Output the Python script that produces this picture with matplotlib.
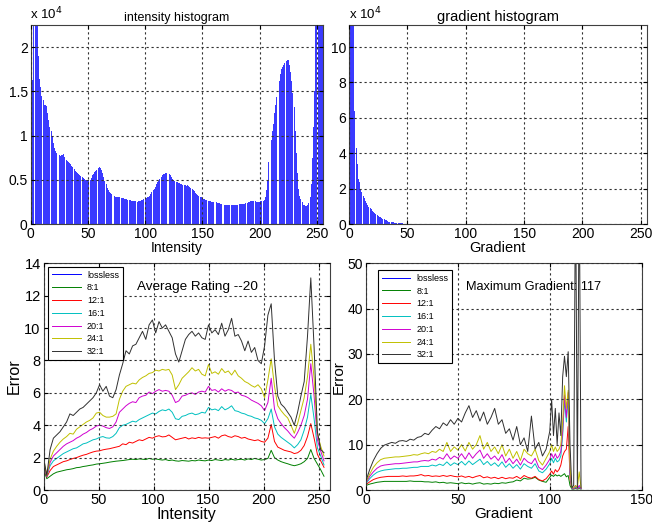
import numpy as np
import matplotlib
matplotlib.use("Agg")
import matplotlib.pyplot as plt

plt.rcParams['font.family'] = ['Liberation Sans', 'DejaVu Sans']

# ---------------- data ----------------
# intensity histogram (units of 1e4), bins at intensity 1..256
intensity_hist = [
    0.74, 1.63, 2.50, 2.60, 2.50, 2.30, 1.90, 1.64, 1.55, 1.45,
    1.40, 1.35, 1.34, 1.33, 1.25, 1.18, 1.10, 1.05, 1.00, 0.92,
    0.86, 0.82, 0.80, 0.78, 0.78, 0.77, 0.78, 0.78, 0.79, 0.76,
    0.72, 0.71, 0.70, 0.69, 0.68, 0.66, 0.64, 0.62, 0.60, 0.59,
    0.58, 0.57, 0.55, 0.54, 0.53, 0.52, 0.51, 0.50, 0.50, 0.49,
    0.50, 0.50, 0.52, 0.55, 0.57, 0.59, 0.60, 0.61, 0.63, 0.64,
    0.63, 0.61, 0.58, 0.53, 0.49, 0.45, 0.41, 0.38, 0.36, 0.35,
    0.34, 0.33, 0.32, 0.31, 0.31, 0.30, 0.30, 0.30, 0.29, 0.29,
    0.29, 0.28, 0.28, 0.28, 0.27, 0.27, 0.27, 0.26, 0.26, 0.26,
    0.26, 0.26, 0.25, 0.26, 0.26, 0.26, 0.27, 0.27, 0.28, 0.28,
    0.29, 0.30, 0.31, 0.32, 0.34, 0.36, 0.38, 0.40, 0.42, 0.45,
    0.47, 0.49, 0.51, 0.53, 0.55, 0.56, 0.57, 0.58, 0.58, 0.57,
    0.56, 0.55, 0.53, 0.51, 0.50, 0.49, 0.48, 0.47, 0.46, 0.46,
    0.45, 0.45, 0.44, 0.44, 0.44, 0.43, 0.44, 0.43, 0.42, 0.41,
    0.40, 0.38, 0.37, 0.35, 0.34, 0.33, 0.32, 0.31, 0.30, 0.29,
    0.28, 0.28, 0.27, 0.27, 0.26, 0.26, 0.26, 0.25, 0.25, 0.25,
    0.25, 0.25, 0.24, 0.24, 0.24, 0.23, 0.23, 0.23, 0.22, 0.22,
    0.22, 0.22, 0.22, 0.22, 0.22, 0.22, 0.22, 0.22, 0.22, 0.22,
    0.22, 0.23, 0.23, 0.23, 0.23, 0.23, 0.23, 0.24, 0.24, 0.25,
    0.25, 0.26, 0.26, 0.26, 0.26, 0.26, 0.25, 0.25, 0.25, 0.25,
    0.26, 0.26, 0.26, 0.27, 0.30, 0.38, 0.50, 0.70, 0.83, 0.95,
    1.05, 1.13, 1.25, 1.35, 1.44, 1.55, 1.62, 1.70, 1.75, 1.78,
    1.80, 1.82, 1.84, 1.85, 1.85, 1.80, 1.72, 1.62, 1.48, 1.32,
    1.05, 0.80, 0.58, 0.40, 0.32, 0.28, 0.25, 0.22, 0.21, 0.20,
    0.20, 0.21, 0.24, 0.30, 0.45, 0.75, 1.10, 1.50, 2.50, 3.00,
    3.20, 3.50, 3.50, 3.60, 3.50, 3.20,
]
intensity_bins = list(range(1, 257))

# gradient histogram (units of 1e4), bins at gradient 0..255
gradient_hist_nonzero = [
    5.30, 25.0, 30.0, 20.0, 13.0, 6.40, 4.30, 3.40, 2.55, 2.40,
    2.00, 1.80, 1.60, 1.45, 1.32, 1.20, 1.07, 0.98, 0.90, 0.82,
    0.75, 0.68, 0.62, 0.56, 0.50, 0.46, 0.42, 0.37, 0.33, 0.29,
    0.26, 0.23, 0.20, 0.17, 0.14, 0.12, 0.11, 0.10, 0.09, 0.08,
    0.07, 0.06, 0.05, 0.045, 0.04, 0.035, 0.03, 0.025, 0.02, 0.015,
    0.01, 0.005,
]
gradient_hist = gradient_hist_nonzero + [0.0] * (256 - len(gradient_hist_nonzero))
gradient_bins = list(range(0, 256))

series_names = ['lossless', '8:1', '12:1', '16:1', '20:1', '24:1', '32:1']
series_colors = ['#0000ff', '#008000', '#ff0000', '#00c0c0', '#d000d0', '#c0c000', '#303030']

# error vs intensity
int_x = list(range(0, 256, 3))
int_err_lossless = [0.0] * len(int_x)
int_err_8 = [
    1.30, 0.70, 0.85, 1.00, 1.10, 1.15, 1.20, 1.25, 1.28, 1.32,
    1.38, 1.40, 1.45, 1.48, 1.52, 1.55, 1.60, 1.62, 1.65, 1.68,
    1.72, 1.75, 1.78, 1.80, 1.82, 1.85, 1.88, 1.90, 1.88, 1.92,
    1.90, 1.88, 1.95, 1.90, 1.92, 1.88, 1.85, 1.88, 1.82, 1.85,
    1.80, 1.78, 1.82, 1.80, 1.78, 1.82, 1.80, 1.85, 1.82, 1.80,
    1.85, 1.82, 1.88, 1.85, 1.82, 1.88, 1.85, 1.90, 1.85, 1.88,
    1.90, 1.85, 1.92, 1.88, 1.95, 1.90, 1.85, 1.88, 1.95, 2.45,
    2.00, 1.85, 1.75, 1.68, 1.62, 1.55, 1.50, 1.55, 1.62, 1.75,
    1.95, 2.50, 1.95, 1.60, 1.25, 0.85,
]
int_err_12 = [
    1.60, 0.80, 1.20, 1.45, 1.55, 1.65, 1.75, 1.80, 1.88, 1.95,
    2.00, 2.08, 2.15, 2.20, 2.28, 2.35, 2.40, 2.42, 2.48, 2.52,
    2.55, 2.60, 2.65, 2.70, 2.85, 2.80, 2.95, 2.90, 3.00, 3.10,
    3.05, 3.15, 3.25, 3.20, 3.30, 3.35, 3.28, 3.30, 3.40, 3.25,
    3.10, 3.15, 3.20, 3.25, 3.15, 3.22, 3.18, 3.25, 3.20, 3.22,
    3.20, 3.25, 3.30, 3.20, 3.35, 3.40, 3.30, 3.25, 3.35, 3.30,
    3.20, 3.25, 3.15, 3.10, 3.05, 3.10, 3.00, 2.95, 3.20, 4.05,
    3.00, 2.65, 2.55, 2.45, 2.40, 2.35, 2.25, 2.30, 2.45, 2.75,
    3.30, 4.10, 3.20, 2.20, 1.80, 1.40,
]
int_err_16 = [
    1.70, 0.85, 1.50, 1.80, 1.95, 2.10, 2.25, 2.35, 2.45, 2.55,
    2.60, 2.72, 2.85, 2.90, 3.00, 3.10, 3.15, 3.25, 3.30, 3.22,
    3.20, 3.30, 3.50, 3.85, 4.00, 4.05, 4.15, 4.25, 4.20, 4.35,
    4.45, 4.55, 4.65, 4.75, 4.70, 4.85, 4.95, 4.90, 5.00, 4.80,
    4.40, 4.35, 4.55, 4.60, 4.70, 4.75, 4.65, 4.70, 4.80, 4.75,
    5.10, 4.95, 5.00, 4.90, 5.15, 4.95, 5.05, 5.20, 4.90, 4.85,
    4.75, 4.70, 4.60, 4.55, 4.45, 4.40, 4.30, 4.10, 4.40, 5.00,
    3.90, 3.45, 3.25, 3.10, 2.95, 2.80, 2.60, 2.80, 3.10, 3.70,
    4.50, 5.90, 4.40, 2.60, 2.10, 1.55,
]
int_err_20 = [
    1.80, 0.85, 1.70, 2.10, 2.30, 2.50, 2.70, 2.85, 2.95, 3.05,
    3.20, 3.30, 3.45, 3.55, 3.70, 3.80, 3.95, 4.00, 3.95, 3.85,
    3.80, 3.90, 4.20, 4.80, 5.00, 5.20, 5.35, 5.45, 5.40, 5.70,
    5.80, 5.85, 6.05, 5.95, 6.10, 6.20, 6.10, 6.15, 6.10, 5.85,
    5.40, 5.50, 5.80, 5.85, 5.95, 6.00, 5.90, 6.05, 6.10, 6.05,
    6.40, 6.15, 6.20, 6.05, 6.25, 6.10, 6.20, 6.15, 6.00, 6.05,
    5.85, 5.80, 5.70, 5.55, 5.45, 5.35, 5.20, 4.90, 5.40, 6.90,
    5.00, 4.40, 4.10, 3.85, 3.65, 3.40, 3.20, 3.55, 4.00, 4.60,
    5.60, 7.80, 5.80, 3.10, 2.40, 1.80,
]
int_err_24 = [
    1.90, 0.90, 1.90, 2.40, 2.70, 2.95, 3.15, 3.30, 3.50, 3.45,
    3.75, 3.90, 4.05, 4.20, 4.30, 4.45, 4.75, 4.80, 4.60, 4.50,
    4.50, 4.55, 4.70, 5.60, 6.10, 6.40, 6.50, 6.60, 6.55, 6.80,
    6.95, 7.05, 7.20, 7.25, 7.40, 7.35, 7.45, 7.40, 7.45, 7.10,
    6.20, 6.50, 6.90, 7.10, 7.30, 7.55, 7.35, 7.45, 7.15, 7.05,
    7.75, 7.20, 7.30, 7.15, 7.50, 7.25, 7.35, 7.10, 7.40, 7.05,
    6.90, 6.70, 6.60, 6.45, 6.35, 6.50, 6.25, 5.70, 6.80, 8.10,
    6.40, 5.20, 4.90, 4.65, 4.45, 4.00, 3.50, 4.10, 4.90, 5.70,
    7.00, 9.00, 6.90, 3.50, 2.70, 2.10,
]
int_err_32 = [
    2.00, 0.90, 2.50, 3.20, 3.40, 3.60, 3.90, 4.20, 4.70, 4.60,
    4.80, 5.00, 5.10, 5.30, 5.50, 5.70, 6.00, 6.50, 6.10, 6.40,
    5.80, 5.70, 6.20, 7.10, 7.80, 8.60, 8.40, 8.90, 9.00, 9.40,
    9.80, 9.30, 10.20, 10.50, 9.70, 10.40, 10.00, 10.20, 9.80, 9.40,
    8.40, 7.90, 8.60, 9.30, 9.60, 9.80, 9.50, 9.70, 9.40, 9.30,
    10.20, 9.70, 9.90, 9.60, 10.30, 9.50, 9.90, 10.60, 9.50, 9.60,
    9.20, 8.60, 9.20, 8.50, 8.80, 8.00, 7.80, 8.90, 10.80, 11.50,
    8.00, 5.80, 5.30, 5.10, 4.80, 4.50, 4.00, 4.80, 5.80, 6.70,
    9.50, 13.10, 8.80, 3.60, 2.50, 2.30,
]
int_errors = [int_err_lossless, int_err_8, int_err_12, int_err_16,
              int_err_20, int_err_24, int_err_32]

# error vs gradient
grad_x = list(range(0, 101, 2)) + list(range(101, 118))
grad_err_lossless = [0.0] * len(grad_x)
grad_err_8 = [
    1.0, 1.3, 1.5, 1.7, 1.8, 1.9, 1.9, 1.9, 1.9, 1.9,
    1.9, 1.9, 2.0, 1.9, 1.9, 1.9, 1.8, 1.8, 1.7, 1.8,
    1.6, 1.7, 1.5, 1.6, 1.5, 1.4, 1.6, 1.4, 1.5, 1.3,
    1.5, 1.6, 1.3, 1.4, 1.3, 1.5, 1.4, 1.6, 1.5, 1.7,
    1.8, 2.2, 2.0, 2.6, 2.4, 2.5, 2.8, 2.2, 1.9, 1.7,
    2.8,
    3.3, 3.0, 3.4, 3.1, 3.3, 3.0, 3.3, 3.6, 2.9, 3.2,
    1.0, 0.2, 0.2, 0.3, 0.2, 0.3, 0.2,
]
grad_err_12 = [
    1.2, 1.8, 2.3, 2.6, 2.8, 2.9, 3.0, 3.0, 3.0, 3.0,
    3.1, 3.0, 3.1, 3.1, 3.2, 3.4, 3.1, 3.2, 3.0, 3.1,
    3.0, 3.2, 3.0, 3.2, 3.0, 2.9, 3.1, 2.8, 3.0, 2.7,
    3.0, 3.2, 2.7, 2.9, 2.6, 2.8, 2.5, 2.8, 2.5, 2.7,
    2.6, 3.0, 2.5, 3.2, 2.8, 2.6, 3.0, 2.3, 2.0, 2.5,
    3.5,
    4.2, 3.5, 4.5, 4.0, 4.5, 5.5, 7.5, 8.5, 9.0, 14.0,
    2.5, 0.3, 0.3, 0.5, 0.3, 0.5, 0.3,
]
grad_err_16 = [
    1.4, 2.5, 3.3, 3.9, 4.2, 4.4, 4.5, 4.6, 4.7, 4.7,
    4.8, 4.8, 4.9, 5.0, 5.0, 5.2, 5.2, 5.2, 5.5, 5.3,
    5.7, 5.4, 6.2, 5.4, 6.0, 5.6, 6.3, 5.5, 6.4, 5.6,
    6.2, 6.8, 5.6, 6.3, 5.4, 6.0, 5.2, 6.2, 5.0, 5.8,
    4.8, 5.6, 4.6, 5.8, 5.2, 4.8, 5.8, 4.2, 3.8, 4.6,
    5.8,
    7.0, 6.0, 7.0, 6.2, 6.5, 7.5, 12.0, 20.0, 15.0, 20.5,
    3.5, 0.3, 0.3, 0.6, 0.3, 0.6, 0.3,
]
grad_err_20 = [
    1.6, 3.0, 4.0, 4.8, 5.3, 5.5, 5.6, 5.7, 5.8, 5.8,
    5.9, 6.0, 6.1, 6.2, 6.2, 6.4, 6.5, 6.4, 6.8, 6.6,
    7.2, 6.8, 8.0, 6.8, 7.5, 7.0, 8.0, 6.8, 8.2, 7.0,
    8.0, 8.8, 7.0, 8.0, 6.8, 7.5, 6.5, 7.8, 6.0, 7.0,
    5.8, 6.8, 5.5, 7.0, 6.2, 5.8, 7.0, 5.0, 4.5, 5.5,
    6.8,
    8.0, 7.0, 8.0, 7.0, 7.5, 8.5, 13.0, 21.0, 16.0, 21.5,
    4.0, 0.5, 0.3, 1.0, 0.3, 1.0, 0.3,
]
grad_err_24 = [
    1.8, 3.5, 5.0, 6.0, 6.7, 7.0, 7.1, 7.2, 7.3, 7.3,
    7.4, 7.5, 7.6, 7.8, 7.7, 8.0, 8.2, 8.0, 8.5, 8.3,
    9.0, 8.5, 10.5, 8.5, 9.5, 8.8, 10.0, 8.6, 10.5, 9.0,
    10.0, 12.0, 9.0, 10.5, 8.5, 9.5, 8.0, 10.0, 7.5, 9.0,
    7.0, 8.5, 6.5, 9.0, 8.0, 7.5, 9.0, 6.5, 5.5, 7.0,
    8.5,
    10.0, 8.5, 9.5, 8.5, 9.0, 10.0, 15.0, 23.0, 18.0, 22.0,
    5.0, 0.5, 0.5, 1.0, 0.5, 4.0, 0.5,
]
grad_err_32 = [
    2.0, 4.5, 6.5, 8.0, 9.2, 9.9, 10.2, 10.5, 10.3, 10.8,
    10.9, 10.7, 11.2, 11.0, 11.6, 11.8, 12.5, 12.2, 13.2, 14.0,
    13.5, 14.8, 14.2, 15.5, 14.5, 15.8, 15.0, 17.0, 18.6, 16.0,
    17.5, 15.2, 17.2, 14.5, 16.0, 18.0, 14.5, 15.5, 12.5, 13.5,
    11.0, 14.0, 10.0, 11.5, 8.5, 16.3, 9.0, 10.5, 7.5, 9.0,
    13.0,
    20.0, 12.0, 18.0, 10.0, 17.0, 12.0, 25.0, 29.5, 25.0, 30.5,
    10.0, 0.5, 1.0, 70.0, 0.5, 70.0, 0.5,
]
grad_errors = [grad_err_lossless, grad_err_8, grad_err_12, grad_err_16,
               grad_err_20, grad_err_24, grad_err_32]

# ---------------- figure ----------------
W, H = 652, 525
fig = plt.figure(figsize=(W / 100, H / 100), dpi=100)


def box(l, t, r, b):
    return [l / W, 1 - b / H, (r - l) / W, (b - t) / H]


ax1 = fig.add_axes(box(30.5, 25, 322.7, 224))
ax2 = fig.add_axes(box(349, 25, 646.7, 224))
ax3 = fig.add_axes(box(43.5, 263.3, 329.5, 490))
ax4 = fig.add_axes(box(366, 263.3, 641.7, 490))

bar_color = '#3a3aff'


def style(ax, fs=10):
    ax.grid(True, linestyle=(0, (2, 2.5)), color='#303030', linewidth=0.8)
    ax.set_axisbelow(False)
    ax.tick_params(direction='in', top=True, right=True, length=3,
                   labelsize=fs, pad=2)
    for s in ax.spines.values():
        s.set_linewidth(0.8)
        s.set_color('#404040')


# top-left: intensity histogram
ax1.bar(intensity_bins, intensity_hist, width=0.85, color=bar_color, linewidth=0)
ax1.set_xlim(0, 255)
ax1.set_ylim(0, 2.25)
ax1.set_xticks([0, 50, 100, 150, 200, 250])
ax1.set_yticks([0, 0.5, 1, 1.5, 2])
ax1.set_yticklabels(['0', '0.5', '1', '1.5', '2'])
style(ax1, 10)
ax1.set_xlabel('Intensity', fontsize=10, labelpad=0)
ax1.set_title('intensity histogram', fontsize=9, pad=3)
ax1.text(0.0, 1.015, 'x 10$^4$', transform=ax1.transAxes, fontsize=9.5,
         ha='left', va='bottom')

# top-right: gradient histogram
ax2.bar(gradient_bins, gradient_hist, width=0.85, color=bar_color, linewidth=0)
ax2.set_xlim(0, 255)
ax2.set_ylim(0, 11.25)
ax2.set_xticks([0, 50, 100, 150, 200, 250])
ax2.set_yticks([0, 2, 4, 6, 8, 10])
style(ax2, 10)
ax2.set_xlabel('Gradient', fontsize=10.5, labelpad=0)
ax2.set_title('gradient histogram', fontsize=10.5, pad=3)
ax2.text(0.0, 1.015, 'x 10$^4$', transform=ax2.transAxes, fontsize=9.5,
         ha='left', va='bottom')

# bottom-left: error vs intensity
for name, col, vals in zip(series_names, series_colors, int_errors):
    ax3.plot(int_x, vals, color=col, linewidth=0.7, label=name)
ax3.set_xlim(0, 260)
ax3.set_ylim(0, 14)
ax3.set_xticks([0, 50, 100, 150, 200, 250])
ax3.set_yticks(list(range(0, 15, 2)))
style(ax3, 10.5)
ax3.set_xlabel('Intensity', fontsize=11.5, labelpad=0)
ax3.set_ylabel('Error', fontsize=11.5, labelpad=2)
ax3.text(0.537, 0.895, 'Average Rating --20', transform=ax3.transAxes,
         fontsize=9.7, ha='center', va='center')
leg3 = ax3.legend(loc='upper left', bbox_to_anchor=(0.016, 0.984), fontsize=6.5,
                  frameon=True, fancybox=False, framealpha=1, edgecolor='black',
                  handlelength=3.2, labelspacing=0.42, borderaxespad=0,
                  borderpad=0.4, handletextpad=0.7)
leg3.get_frame().set_linewidth(0.8)

# bottom-right: error vs gradient
for name, col, vals in zip(series_names, series_colors, grad_errors):
    ax4.plot(grad_x, vals, color=col, linewidth=0.7, label=name)
ax4.set_xlim(0, 150)
ax4.set_ylim(0, 50)
ax4.set_xticks([0, 50, 100, 150])
ax4.set_yticks([0, 10, 20, 30, 40, 50])
style(ax4, 10)
ax4.set_xlabel('Gradient', fontsize=11, labelpad=0)
ax4.set_ylabel('Error', fontsize=11, labelpad=1)
ax4.text(0.606, 0.895, 'Maximum Gradient: 117', transform=ax4.transAxes,
         fontsize=9.2, ha='center', va='center')
leg4 = ax4.legend(loc='upper left', bbox_to_anchor=(0.0435, 0.97), fontsize=6.5,
                  frameon=True, fancybox=False, framealpha=1, edgecolor='black',
                  handlelength=3.2, labelspacing=0.42, borderaxespad=0,
                  borderpad=0.4, handletextpad=0.7)
leg4.get_frame().set_linewidth(0.8)

fig.savefig('out.png', dpi=100)
